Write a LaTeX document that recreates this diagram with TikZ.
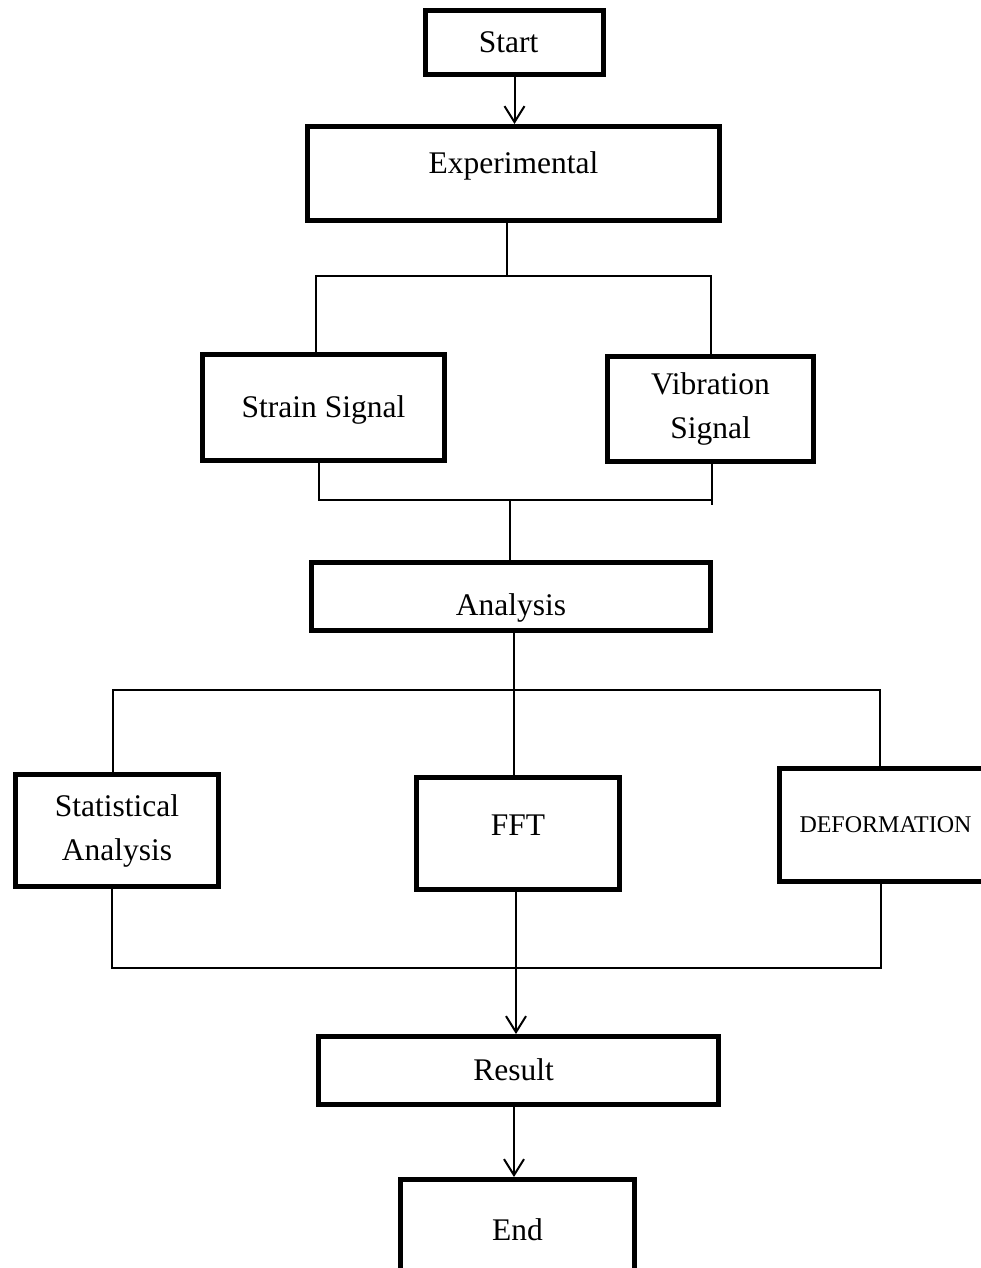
\documentclass[tikz,border=0pt]{standalone}
\usepackage{fontspec}
\setmainfont{Liberation Serif}
\usetikzlibrary{arrows.meta}
\begin{document}
\begin{tikzpicture}[x=1pt, y=-1pt, >={Straight Barb[length=16pt,width=20pt]},
  box/.style={draw, line width=5pt, inner sep=0pt, font=\fontsize{31.5}{44}\selectfont, text height=20.6pt, text depth=0pt},
  boxtwo/.style={draw, line width=5pt, inner sep=0pt, font=\fontsize{31.5}{44}\selectfont, align=center},
  link/.style={line width=2pt}]
  \useasboundingbox (0,0) rectangle (980,1268);
  % 1. 方框
  \node[box, minimum width=178pt, minimum height=64pt] (start) at (514.5,42.5) {Start\kern12pt};
  \node[box, minimum width=412pt, minimum height=94pt] (exp) at (513.5,173.5) {\raisebox{10.5pt}{Experimental}};
  \node[box, minimum width=242pt, minimum height=106pt] (strain) at (323.5,407.5) {Strain Signal};
  \node[boxtwo, minimum width=206pt, minimum height=105pt] (vib) at (710.5,409) {Vibration\\Signal};
  \node[box, minimum width=399pt, minimum height=68pt] (ana) at (511,596.5) {\raisebox{-8.5pt}{Analysis}};
  \node[boxtwo, minimum width=203pt, minimum height=112pt] (stat) at (117,830.5) {Statistical\\Analysis};
  \node[box, minimum width=203pt, minimum height=112pt] (fft) at (518,833.5) {\raisebox{8.5pt}{FFT}};
  \node[box, font=\fontsize{24}{30}\selectfont, text height=15.7pt, minimum width=212pt, minimum height=113pt] (deform) at (885.5,825) {DEFORMATION};
  \node[box, minimum width=400pt, minimum height=68pt] (res) at (518.5,1070.5) {Result\kern10pt};
  \node[box, minimum width=234pt, minimum height=101pt] (finish) at (517.5,1230) {End};

  % 2. 分支横线的节点
  \coordinate (e1) at (507,276);  \coordinate (e1l) at (316,276); \coordinate (e1r) at (711,276);
  \coordinate (e2) at (510,500);  \coordinate (e2l) at (319,500); \coordinate (e2r) at (712,500);
  \coordinate (e3) at (514,690);  \coordinate (e3l) at (113,690); \coordinate (e3r) at (880,690);
  \coordinate (e4) at (516,968);  \coordinate (e4l) at (112,968); \coordinate (e4r) at (881,968);
  \coordinate (e5) at (514,1140);

  % 3. 连线
  \draw[link,->] (start.south) -- (start.south |- exp.north);
  \draw[link] (exp.south -| e1) -- (e1);
  \draw[link] (strain.north -| e1l) |- (e1r) -- (e1r |- vib.north);
  \draw[link] (strain.south -| e2l) |- (e2r);
  \draw[link] (vib.south -| e2r) -- ++(0,41);
  \draw[link] (e2) -- (e2 |- ana.north);
  \draw[link] (ana.south -| e3) -- (e3 |- fft.north);
  \draw[link] (stat.north -| e3l) |- (e3r) -- (e3r |- deform.north);
  \draw[link] (stat.south -| e4l) |- (e4r) -- (deform.south -| e4r);
  \draw[link,->] (fft.south -| e4) -- (e4 |- res.north);
  \draw[link,->] (res.south -| e5) -- (e5 |- finish.north);
\end{tikzpicture}
\end{document}
